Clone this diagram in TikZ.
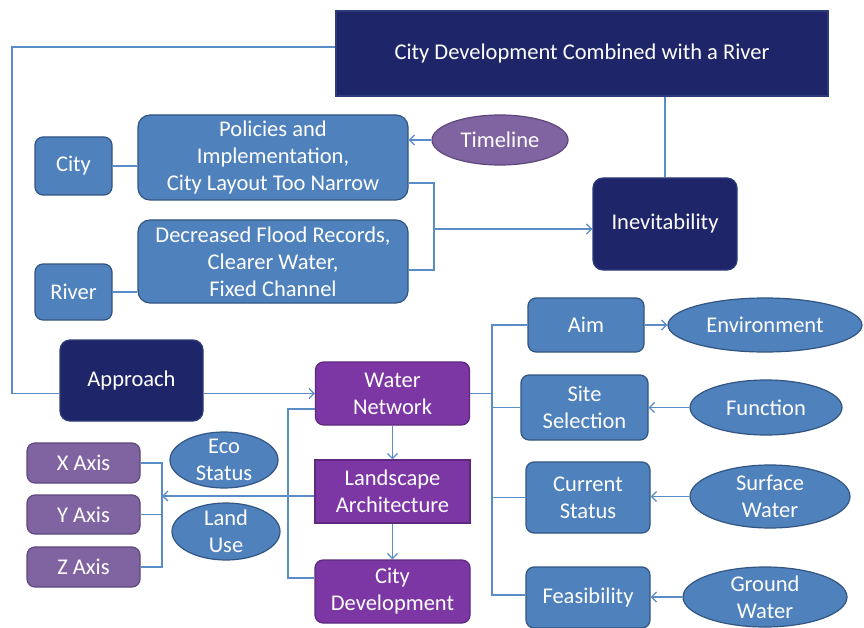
\documentclass[tikz,border=0pt]{standalone}
\usepackage{fontspec}
\setmainfont{Carlito}
\usetikzlibrary{shapes.geometric,arrows.meta}
\definecolor{cblue}{RGB}{79,129,189}
\definecolor{cblueD}{RGB}{50,85,130}
\definecolor{cnavy}{RGB}{30,38,105}
\definecolor{cnavyD}{RGB}{45,60,120}
\definecolor{cpurp}{RGB}{125,55,165}
\definecolor{cpurpD}{RGB}{95,40,125}
\definecolor{clpurp}{RGB}{128,100,162}
\definecolor{clpurpD}{RGB}{95,72,125}
\definecolor{cline}{RGB}{90,140,200}
\begin{document}
\begin{tikzpicture}[x=1pt,y=-1pt,
  base/.style={rectangle, rounded corners=8pt, line width=1.2pt, text=white, align=center, inner sep=0pt, font=\fontsize{22.5}{27}\selectfont},
  bbox/.style={base, draw=cblueD, fill=cblue},
  nbox/.style={base, draw=cnavyD, fill=cnavy, rounded corners=10pt},
  pbox/.style={base, draw=cpurpD, fill=cpurp},
  lbox/.style={base, draw=clpurpD, fill=clpurp},
  ell/.style={ellipse, line width=1.2pt, draw=cblueD, fill=cblue, text=white, align=center, inner sep=-10pt, font=\fontsize{22.5}{27}\selectfont},
  pell/.style={ell, draw=clpurpD, fill=clpurp},
  conn/.style={draw=cline, line width=1.3pt},
  arr/.style={conn, -{Straight Barb[length=5pt,width=10pt]}}]
\useasboundingbox (0,0) rectangle (864,628);
\fill[white] (0,0) rectangle (864,628);

% nodes
\node[nbox, sharp corners, minimum width=492pt, minimum height=85pt] (top) at (582,53.5) {City Development Combined with a River};
\node[nbox, minimum width=144pt, minimum height=92pt] (inev) at (665,224) {Inevitability};
\node[pell, minimum width=136pt, minimum height=50pt] (time) at (500,140) {Timeline};
\node[bbox, rounded corners=12pt, minimum width=270pt, minimum height=85pt] (pol) at (273,157.5) {Policies and\\Implementation,\\City Layout Too Narrow};
\node[bbox, minimum width=77pt, minimum height=58pt] (city) at (73.5,166) {City};
\node[bbox, rounded corners=12pt, minimum width=270pt, minimum height=83pt] (dec) at (273,261.5) {Decreased Flood Records,\\Clearer Water,\\Fixed Channel};
\node[bbox, minimum width=77pt, minimum height=56pt] (river) at (73.5,292) {River};
\node[nbox, minimum width=143pt, minimum height=81pt] (appr) at (131.5,380.5) {Approach};

\node[bbox, minimum width=116pt, minimum height=54pt] (aim) at (586,325) {Aim};
\node[bbox, minimum width=127pt, minimum height=65pt] (site) at (584.5,407.5) {Site\\Selection};
\node[bbox, minimum width=124pt, minimum height=71pt] (cur) at (588,497.5) {Current\\Status};
\node[bbox, minimum width=124pt, minimum height=61pt] (feas) at (588,597.5) {Feasibility};
\node[ell, minimum width=194pt, minimum height=54pt] (env) at (765,325) {Environment};
\node[ell, minimum width=152pt, minimum height=55pt] (func) at (766,407.5) {Function};
\node[ell, minimum width=160pt, minimum height=63pt] (surf) at (770,496.5) {Surface\\Water};
\node[ell, minimum width=164pt, minimum height=60pt] (ground) at (765,597) {Ground\\Water};

\node[pbox, minimum width=154pt, minimum height=63pt] (wn) at (392.5,393.5) {Water\\Network};
\node[pbox, sharp corners, minimum width=155pt, minimum height=63pt] (la) at (392.5,491.5) {Landscape\\Architecture};
\node[pbox, minimum width=155pt, minimum height=63pt] (cd) at (392.5,591.5) {City\\Development};

\node[lbox, minimum width=113pt, minimum height=40pt] (xa) at (83.5,463) {X Axis};
\node[lbox, minimum width=113pt, minimum height=39pt] (ya) at (83.5,514.5) {Y Axis};
\node[lbox, minimum width=113pt, minimum height=40pt] (za) at (83.5,567) {Z Axis};
\node[ell, minimum width=108pt, minimum height=56pt] (eco) at (224,460) {Eco\\Status};
\node[ell, minimum width=108pt, minimum height=57pt] (land) at (226,531.5) {Land\\Use};

% coordinates
\coordinate (L1) at (12,47);
\coordinate (B1) at (434,183);
\coordinate (B2) at (434,270);
\coordinate (B) at (434,229);
\coordinate (R1) at (492,325);
\coordinate (R2) at (492,595);
\coordinate (P1) at (288,409);
\coordinate (P2) at (288,578);
\coordinate (AX) at (162,496);

% connectors
\draw[conn] (top.west |- L1) -- (L1) |- (appr.west |- wn.west);
\draw[arr] (appr.east |- wn.west) -- (wn.west);
\draw[conn] (inev.north |- top.south) -- (inev.north);
\draw[arr] (time.west) -- (pol.east |- time.west);
\draw[conn] (city.east) -- (pol.west |- city.east);
\draw[conn] (river.east) -- (dec.west |- river.east);
\draw[conn] (pol.east |- B1) -- (B1) -- (B2) -- (dec.east |- B2);
\draw[arr] (B) -- (inev.west |- B);

\draw[conn] (wn.east) -- (R1 |- wn.east);
\draw[conn] (aim.west |- R1) -- (R1) -- (R2) -- (feas.west |- R2);
\draw[conn] (R1 |- site.west) -- (site.west);
\draw[conn] (R1 |- cur.west) -- (cur.west);
\draw[arr] (aim.east) -- (env.west);
\draw[arr] (func.west) -- (site.east |- func.west);
\draw[arr] (surf.west) -- (cur.east |- surf.west);
\draw[arr] (ground.west) -- (feas.east |- ground.west);

\draw[arr] (wn.south) -- (la.north);
\draw[arr] (la.south) -- (cd.north);
\draw[conn] (wn.west |- P1) -- (P1) -- (P2) -- (cd.west |- P2);
\draw[arr] (la.west |- AX) -- (AX);
\draw[conn] (xa.east) -- (AX |- xa.east) -- (AX |- za.east) -- (za.east);
\draw[conn] (ya.east) -- (AX |- ya.east);
\end{tikzpicture}
\end{document}
